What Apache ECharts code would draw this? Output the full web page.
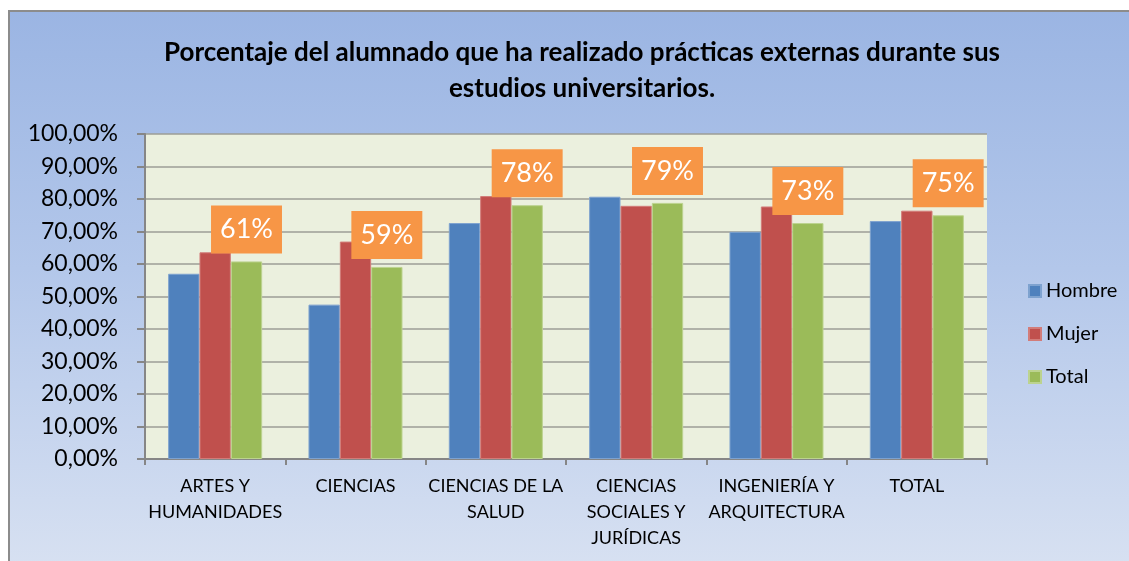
<!DOCTYPE html>
<html>
<head>
<meta charset="utf-8">
<script src="https://cdn.jsdelivr.net/npm/echarts@6/dist/echarts.min.js"></script>
<style>
  html, body { margin: 0; padding: 0; background: #fff; }
  #frame {
    position: absolute; left: 8px; top: 10px; width: 1140px; height: 570px;
    border-left: 2px solid #8c8c8c; border-top: 2px solid #8c8c8c;
    background: linear-gradient(to bottom, #9bb5e3 0%, #b3c7ea 45%, #d9e2f2 100%);
  }
  #main { position: absolute; left: 0; top: 0; width: 1129px; height: 561px; }
</style>
</head>
<body>
<div id="frame"></div>
<div id="main"></div>
<script>
// datos
const categories = ['ARTES Y\nHUMANIDADES', 'CIENCIAS', 'CIENCIAS DE LA\nSALUD', 'CIENCIAS\nSOCIALES Y\nJURÍDICAS', 'INGENIERÍA Y\nARQUITECTURA', 'TOTAL']
const hombre = [57.0, 47.5, 72.6, 80.7, 69.9, 73.2]
const mujer = [63.6, 66.9, 80.9, 77.9, 77.7, 76.4]
const total = [60.8, 59.1, 78.1, 78.8, 72.6, 75.0]
const seriesNames = ['Hombre', 'Mujer', 'Total']

const FONT = 'Lato'

const chart = echarts.init(document.getElementById('main'), null, { renderer: 'canvas' })

const option = {
    backgroundColor: 'transparent',
    animation: false,
    textStyle: { fontFamily: FONT, color: '#000' },
    title: {
        text: 'Porcentaje del alumnado que ha realizado prácticas externas durante sus\nestudios universitarios.',
        left: 577,
        top: 30,
        textAlign: 'center',
        textStyle: {
            fontFamily: FONT,
            fontWeight: 'bold',
            fontSize: 26,
            lineHeight: 36,
            color: '#000'
        }
    },
    legend: {
        orient: 'vertical',
        left: 1028,
        top: 281,
        padding: 0,
        itemWidth: 12,
        itemHeight: 12,
        itemGap: 23,
        icon: 'rect',
        data: seriesNames,
        textStyle: { fontFamily: FONT, fontSize: 20, color: '#000' }
    },
    grid: {
        left: 145,
        right: 1129 - 987,
        top: 134,
        bottom: 561 - 459,
        show: true,
        backgroundColor: '#ebf0de',
        borderWidth: 0,
        containLabel: false
    },
    xAxis: {
        type: 'category',
        data: categories,
        axisLine: { lineStyle: { color: '#868686', width: 2 } },
        axisTick: { show: true, length: 6, lineStyle: { color: '#868686', width: 2 } },
        axisLabel: {
            interval: 0,
            margin: 14,
            fontFamily: FONT,
            fontSize: 18,
            lineHeight: 26,
            color: '#000'
        }
    },
    yAxis: {
        type: 'value',
        min: 0,
        max: 100,
        interval: 10,
        axisLine: { show: true, lineStyle: { color: '#868686', width: 2 } },
        axisTick: { show: true, length: 8, lineStyle: { color: '#868686', width: 2 } },
        splitLine: { lineStyle: { color: '#9d9e96', width: 1.5 } },
        axisLabel: {
            margin: 27,
            fontFamily: FONT,
            fontSize: 23,
            color: '#000',
            formatter: v => v.toFixed(2).replace('.', ',') + '%'
        }
    },
    series: [
        {
            name: 'Hombre',
            type: 'bar',
            data: hombre,
            barGap: '0%',
            barCategoryGap: '33%',
            itemStyle: { color: '#4f81bd', borderColor: '#7ea2cf', borderWidth: 1 }
        },
        {
            name: 'Mujer',
            type: 'bar',
            data: mujer,
            barGap: '0%',
            barCategoryGap: '33%',
            itemStyle: { color: '#c0504d', borderColor: '#d27c79', borderWidth: 1 }
        },
        {
            name: 'Total',
            type: 'bar',
            data: total,
            barGap: '0%',
            barCategoryGap: '33%',
            itemStyle: { color: '#9bbb59', borderColor: '#bcd38f', borderWidth: 1 },
            label: {
                show: true,
                position: 'top',
                distance: 8,
                formatter: p => Math.round(p.value) + '%',
                backgroundColor: '#f79646',
                color: '#fff',
                fontFamily: FONT,
                fontSize: 27,
                lineHeight: 32,
                padding: [8, 9, 8, 9]
            }
        }
    ]
}

chart.setOption(option)
</script>
</body>
</html>
